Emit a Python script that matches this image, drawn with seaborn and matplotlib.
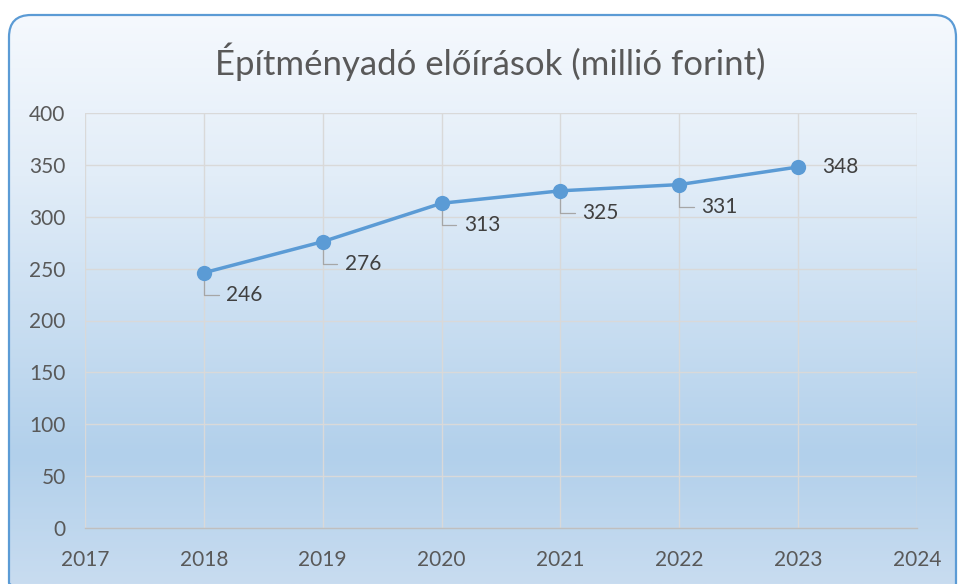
import numpy as np
import pandas as pd
import seaborn as sns
import matplotlib.pyplot as plt
from matplotlib.patches import FancyBboxPatch
from matplotlib.colors import LinearSegmentedColormap

years = [2018, 2019, 2020, 2021, 2022, 2023]
values = [246, 276, 313, 325, 331, 348]
x_ticks = [2017, 2018, 2019, 2020, 2021, 2022, 2023, 2024]
y_ticks = [0, 50, 100, 150, 200, 250, 300, 350, 400]
title = "Építményadó előírások (millió forint)"

sns.set_style("whitegrid")
plt.rcParams['font.family'] = ['Lato', 'DejaVu Sans']

W, H = 958, 584
fig = plt.figure(figsize=(W / 100, H / 100), dpi=100)
fig.patch.set_facecolor('white')

# gradient background inside a rounded frame
bg = fig.add_axes([0, 0, 1, 1], zorder=0)
bg.set_xlim(0, W)
bg.set_ylim(H, 0)
bg.axis('off')
cmap = LinearSegmentedColormap.from_list(
    'bg', [(0, '#F7FAFE'), (0.3, '#E2EDF8'), (0.78, '#B2D0EB'), (1, '#C8DCF0')])
grad = np.linspace(0, 1, 256).reshape(-1, 1)
frame = FancyBboxPatch((9, 15), 947, 590, boxstyle='round,pad=0,rounding_size=22',
                       facecolor='none', edgecolor='#5B9BD5', linewidth=1.6, zorder=3)
bg.add_patch(frame)
im = bg.imshow(grad, cmap=cmap, extent=[0, W, H, 0], aspect='auto', zorder=1)
im.set_clip_path(frame)

ax = fig.add_axes([85 / W, 1 - 528 / H, (917 - 85) / W, (528 - 113) / H], zorder=1)
ax.set_facecolor('none')
df = pd.DataFrame({'year': years, 'value': values})
sns.lineplot(data=df, x='year', y='value', ax=ax, color='#5B9BD5', linewidth=2.5,
             marker='o', markersize=11, markeredgewidth=0, zorder=4)

ax.set_xlim(2017, 2024)
ax.set_ylim(0, 400)
ax.set_xticks(x_ticks)
ax.set_yticks(y_ticks)
ax.set_xlabel('')
ax.set_ylabel('')
ax.grid(True, color='#D9D9D9', linewidth=1)
for s in ['top', 'right', 'left']:
    ax.spines[s].set_visible(False)
ax.spines['bottom'].set_color('#BFBFBF')
ax.spines['bottom'].set_linewidth(1)
ax.tick_params(axis='both', length=0, labelsize=15, labelcolor='#595959')
ax.tick_params(axis='x', pad=16)
ax.tick_params(axis='y', pad=14)

for i, (x, y) in enumerate(zip(years, values)):
    if i == len(years) - 1:
        ax.annotate(str(y), (x, y), xytext=(17, 0), textcoords='offset points',
                    ha='left', va='center', fontsize=15, color='#404040')
    else:
        ax.annotate(str(y), (x, y), xytext=(16, -16), textcoords='offset points',
                    ha='left', va='center', fontsize=15, color='#404040',
                    arrowprops=dict(arrowstyle='-', color='#A6A6A6', lw=0.9,
                                    connectionstyle='angle,angleA=0,angleB=90,rad=0',
                                    relpos=(0, 0.5), shrinkA=3, shrinkB=5))

fig.text(490 / W, 1 - 62 / H, title, ha='center', va='center', fontsize=25, color='#595959')

fig.savefig('out.png', dpi=100)
